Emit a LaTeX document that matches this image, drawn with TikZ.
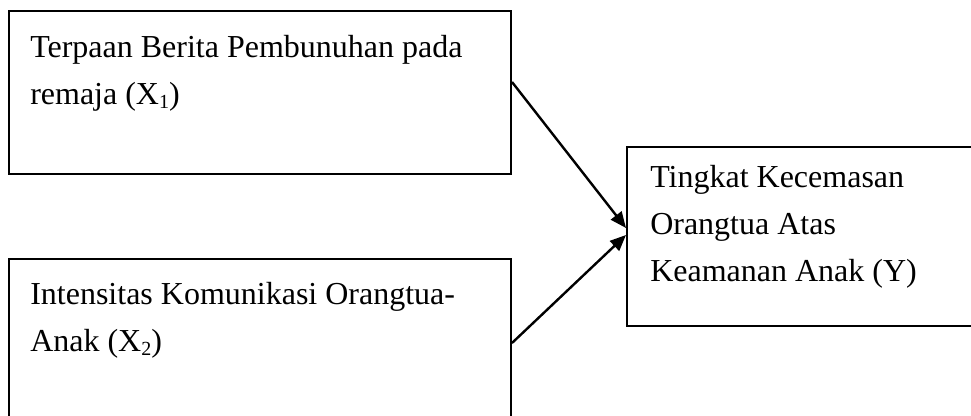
\documentclass[tikz,border=0pt]{standalone}
\usepackage{fontspec}
\setmainfont{Liberation Serif}
\usetikzlibrary{fit,arrows.meta}
\newcommand{\lowsub}[1]{\raisebox{-0.25ex}{\fontsize{15}{15}\selectfont #1}}
\begin{document}
\begin{tikzpicture}[x=0.75pt,y=-0.75pt,
  boxstyle/.style={draw,line width=1.5pt,inner sep=0pt},
  labelstyle/.style={anchor=base west,align=left,inner sep=0pt,font=\fontsize{24}{35.25}\selectfont},
  arrowstyle/.style={line width=1.8pt,-{Triangle[length=12pt,width=10pt]}}]
\useasboundingbox (0,0) rectangle (971,416);
\clip (0,0) rectangle (971,416);
\node[boxstyle,fit={(9,11) (511,174)}] (b1) {};
\node[boxstyle,fit={(9,259) (511,440)}] (b2) {};
\node[boxstyle,fit={(627,147) (990,326)}] (b3) {};
\node[labelstyle] (t1) at (30,105) {Terpaan Berita Pembunuhan pada\\remaja (X\lowsub{1})};
\node[labelstyle] (t2) at (30,352) {Intensitas Komunikasi Orangtua-\\Anak (X\lowsub{2})};
\node[labelstyle] (t3) at (650,282) {Tingkat Kecemasan\\Orangtua Atas\\Keamanan Anak (Y)};
\coordinate (s1) at (b1.east |- 0,82);
\coordinate (s2) at (b2.east |- 0,343);
\coordinate (e1) at (b3.west |- 0,228);
\coordinate (e2) at (b3.west |- 0,235);
\draw[arrowstyle] (s1) -- (e1);
\draw[arrowstyle] (s2) -- (e2);
\end{tikzpicture}
\end{document}
